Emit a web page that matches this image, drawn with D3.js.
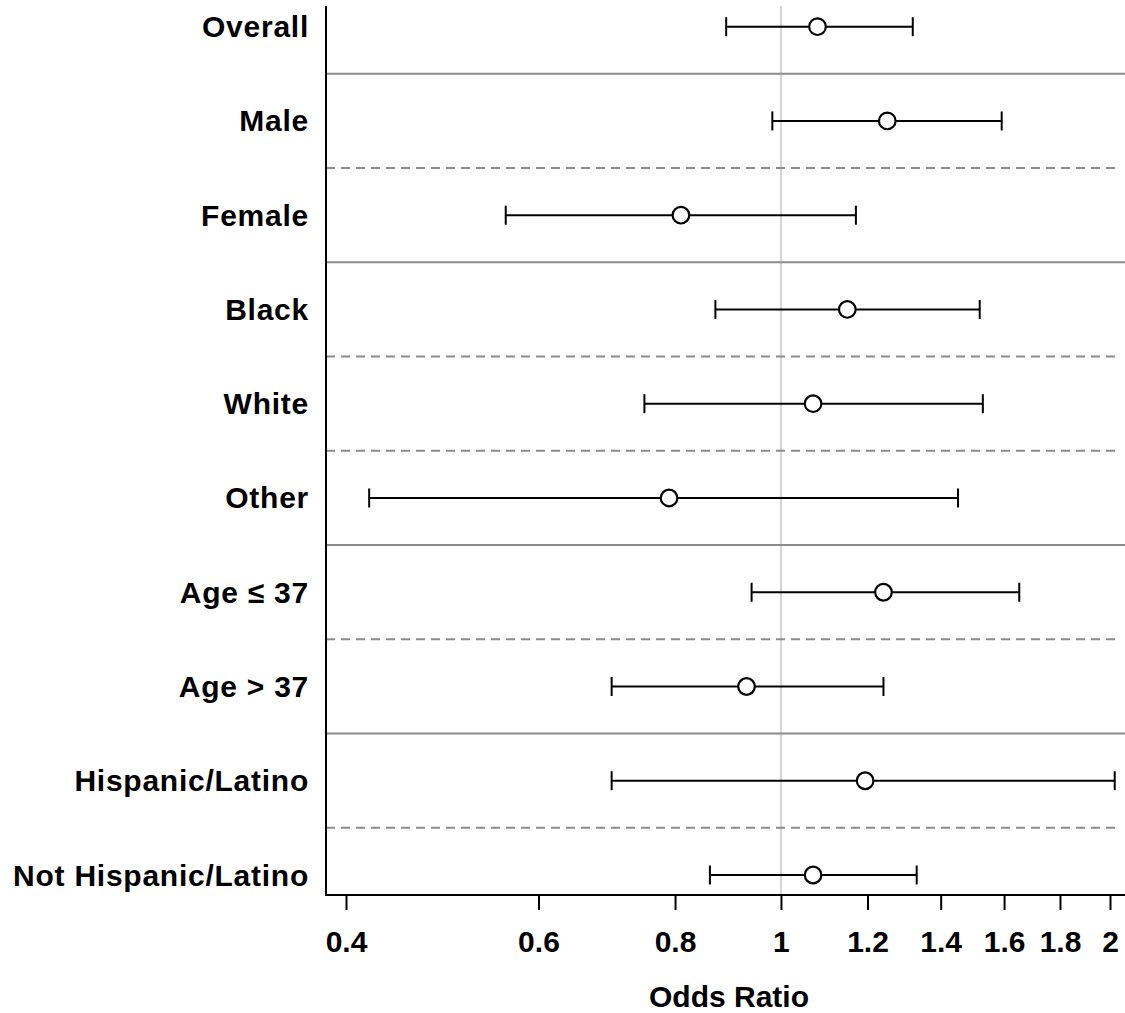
<!DOCTYPE html>
<html>
<head>
<meta charset="utf-8">
<script src="https://cdn.jsdelivr.net/npm/d3@7"></script>
<style>
  html, body { margin: 0; padding: 0; background: #fff; }
  svg text { font-family: "Liberation Sans", Arial, Helvetica, sans-serif; font-weight: bold; fill: #000; }
</style>
</head>
<body>
<svg id="chart" width="1125" height="1013"></svg>
<script>
// Subgroup odds ratios with 95% confidence intervals
const groups = ["Overall", "Male", "Female", "Black", "White", "Other",
                "Age \u2264 37", "Age > 37", "Hispanic/Latino", "Not Hispanic/Latino"];
const oddsRatio = [1.080, 1.251, 0.810, 1.150, 1.070, 0.790, 1.241, 0.930, 1.194, 1.070];
const lowerCI   = [0.891, 0.982, 0.560, 0.871, 0.750, 0.420, 0.940, 0.700, 0.700, 0.861];
const upperCI   = [1.320, 1.592, 1.171, 1.520, 1.530, 1.452, 1.652, 1.241, 2.020, 1.331];
// Separator after each row: "solid" between blocks, "dashed" within a block
const separators = ["solid", "dashed", "solid", "dashed", "dashed", "solid", "dashed", "solid", "dashed"];
const tickValues = [0.4, 0.6, 0.8, 1, 1.2, 1.4, 1.6, 1.8, 2];

const svg = d3.select("#chart");
const plotLeft = 326, plotRight = 1125, plotTop = 6, plotBottom = 895;

const x = d3.scaleLog().domain([0.4, 2]).range([346, 1110]);
const y = d3.scalePoint().domain(groups).range([26.7, 875]);
const step = y.step();

// reference line at OR = 1
svg.append("line")
  .attr("x1", x(1)).attr("x2", x(1))
  .attr("y1", plotTop).attr("y2", plotBottom)
  .attr("stroke", "#d4d4d4").attr("stroke-width", 2);

// row separators
svg.append("g").selectAll("line")
  .data(separators)
  .join("line")
  .attr("x1", plotLeft)
  .attr("x2", d => d === "solid" ? plotRight : 1120)
  .attr("y1", (d, i) => y(groups[i]) + step / 2)
  .attr("y2", (d, i) => y(groups[i]) + step / 2)
  .attr("stroke", "#8c8c8c")
  .attr("stroke-width", 2)
  .attr("stroke-dasharray", d => d === "dashed" ? "9,6" : null);

// confidence intervals
const rows = groups.map((g, i) => ({ g, or: oddsRatio[i], lo: lowerCI[i], hi: upperCI[i] }));
const ci = svg.append("g").selectAll("g")
  .data(rows)
  .join("g")
  .attr("transform", d => `translate(0,${y(d.g)})`);

ci.append("line")
  .attr("x1", d => x(d.lo)).attr("x2", d => x(d.hi))
  .attr("y1", 0).attr("y2", 0)
  .attr("stroke", "#000").attr("stroke-width", 2);
ci.append("line")
  .attr("x1", d => x(d.lo)).attr("x2", d => x(d.lo))
  .attr("y1", -9.5).attr("y2", 9.5)
  .attr("stroke", "#000").attr("stroke-width", 2);
ci.append("line")
  .attr("x1", d => x(d.hi)).attr("x2", d => x(d.hi))
  .attr("y1", -9.5).attr("y2", 9.5)
  .attr("stroke", "#000").attr("stroke-width", 2);
ci.append("circle")
  .attr("cx", d => x(d.or)).attr("cy", 0).attr("r", 8.3)
  .attr("fill", "#fff").attr("stroke", "#000").attr("stroke-width", 2.2);

// group labels
svg.append("g").selectAll("text")
  .data(groups)
  .join("text")
  .attr("x", 309)
  .attr("y", d => y(d))
  .attr("dy", "0.35em")
  .attr("text-anchor", "end")
  .attr("font-size", 30)
  .attr("letter-spacing", "0.75px")
  .text(d => d);

// axes frame
svg.append("line")
  .attr("x1", plotLeft).attr("x2", plotLeft)
  .attr("y1", plotTop).attr("y2", plotBottom)
  .attr("stroke", "#000").attr("stroke-width", 2);
svg.append("line")
  .attr("x1", plotLeft - 1).attr("x2", plotRight)
  .attr("y1", plotBottom).attr("y2", plotBottom)
  .attr("stroke", "#000").attr("stroke-width", 2);

const xAxis = d3.axisBottom(x)
  .tickValues(tickValues)
  .tickFormat(d3.format(""))
  .tickSize(15)
  .tickPadding(21);

const gx = svg.append("g")
  .attr("transform", `translate(0,${plotBottom})`)
  .call(xAxis);
gx.select(".domain").remove();
gx.selectAll(".tick line").attr("stroke", "#000").attr("stroke-width", 2);
gx.selectAll(".tick text")
  .attr("font-size", 30)
  .style("font-family", "'Liberation Sans', Arial, Helvetica, sans-serif")
  .style("font-weight", "bold")
  .attr("fill", "#000");

// axis title
svg.append("text")
  .attr("x", 729)
  .attr("y", 1007)
  .attr("text-anchor", "middle")
  .attr("font-size", 30)
  .text("Odds Ratio");
</script>
</body>
</html>
